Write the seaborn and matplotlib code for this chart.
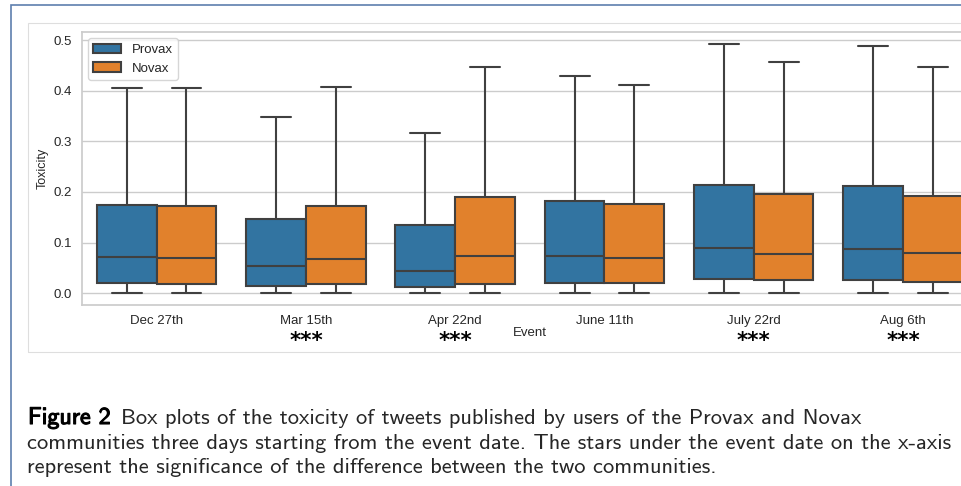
import pandas as pd
import matplotlib.pyplot as plt
import matplotlib.transforms as mtransforms
from matplotlib import patheffects
from matplotlib.patches import Rectangle
import seaborn as sns

events = ["Dec 27th", "Mar 15th", "Apr 22nd", "June 11th", "July 22rd", "Aug 6th"]
communities = ["Provax", "Novax"]
significant = [False, True, True, False, True, True]

# five-number summaries: low whisker, Q1, median, Q3, high whisker
provax_low = [0.0, 0.0, 0.0, 0.0, 0.0, 0.0]
provax_q1 = [0.020, 0.014, 0.013, 0.020, 0.028, 0.026]
provax_median = [0.071, 0.053, 0.045, 0.074, 0.090, 0.088]
provax_q3 = [0.174, 0.147, 0.135, 0.183, 0.213, 0.211]
provax_high = [0.406, 0.349, 0.317, 0.429, 0.492, 0.488]

novax_low = [0.0, 0.0, 0.0, 0.0, 0.0, 0.0]
novax_q1 = [0.019, 0.018, 0.018, 0.020, 0.026, 0.023]
novax_median = [0.069, 0.068, 0.073, 0.070, 0.078, 0.080]
novax_q3 = [0.173, 0.173, 0.191, 0.176, 0.197, 0.192]
novax_high = [0.406, 0.408, 0.447, 0.411, 0.457, 0.446]

caption_bold = "Figure 2"
caption_lines = [
    "Box plots of the toxicity of tweets published by users of the Provax and Novax",
    "communities three days starting from the event date. The stars under the event date on the x-axis",
    "represent the significance of the difference between the two communities.",
]


def build_frame():
    rows = []
    stats = {
        "Provax": (provax_low, provax_q1, provax_median, provax_q3, provax_high),
        "Novax": (novax_low, novax_q1, novax_median, novax_q3, novax_high),
    }
    for i, ev in enumerate(events):
        for com in communities:
            for arr in stats[com]:
                rows.append({"Event": ev, "Community": com, "Toxicity": arr[i]})
    return pd.DataFrame(rows)


df = build_frame()

sns.set_theme(style="whitegrid")
plt.rcParams["font.family"] = ["Liberation Sans", "DejaVu Sans"]

W, H = 962, 486
fig = plt.figure(figsize=(W / 100, H / 100), dpi=100)
fig.patch.set_facecolor("white")

# page frames around the figure (clipped on the right like the screenshot)
fig.patches.append(Rectangle((11 / W, -0.1), 1.2, (H - 5.5) / H + 0.1, transform=fig.transFigure,
                             fill=False, edgecolor="#5d7fae", linewidth=1.2, zorder=0))
fig.patches.append(Rectangle((28 / W, (H - 352) / H), 1.2, (352 - 23) / H, transform=fig.transFigure,
                             fill=False, edgecolor="#dedede", linewidth=0.8, zorder=0))

ax = fig.add_axes([82 / W, (H - 305) / H, 895.7 / W, 272.7 / H])
sns.boxplot(data=df, x="Event", y="Toxicity", hue="Community", ax=ax,
            palette=["#1f77b4", "#ff7f0e"], whis=(0, 100), showfliers=False,
            linewidth=1.5, linecolor=".25")
ax.set_ylim(-0.0231, 0.5153)
ax.set_xlim(-0.5, len(events) - 0.5)
ax.set_yticks([0.0, 0.1, 0.2, 0.3, 0.4, 0.5])
ax.tick_params(axis="x", labelsize=9.5, colors=".15", pad=1)
ax.tick_params(axis="y", labelsize=9.5, colors=".15", pad=1.5)
ax.set_xlabel("Event", fontsize=9.5, color=".15", labelpad=0)
ax.set_ylabel("Toxicity", fontsize=9, color=".15", labelpad=3)
sns.move_legend(ax, "upper left", title=None, fontsize=9.5, handlelength=2.1,
                borderaxespad=0.45)

trans = mtransforms.blended_transform_factory(ax.transData, ax.transAxes)
for i, sig in enumerate(significant):
    if sig:
        ax.text(i, -0.133, "***", transform=trans, ha="center", va="center",
                fontsize=15.5, fontweight="bold", family="DejaVu Sans", color="black")

# caption, sized so the longest line fills the width seen in the reference
renderer = fig.canvas.get_renderer()
probe = fig.text(0, 0, caption_lines[1], fontsize=14, family="cmss10")
cap_size = 14 * 925 / probe.get_window_extent(renderer).width
probe.remove()

bold = fig.text(28 / W, (H - 424) / H, caption_bold, fontsize=cap_size * 1.07, family="cmss10",
                va="baseline", color="black")
bold.set_path_effects([patheffects.withStroke(linewidth=0.8, foreground="black")])
fig.text(121 / W, (H - 424) / H, caption_lines[0], fontsize=cap_size, family="cmss10", va="baseline")
fig.text(27 / W, (H - 448.5) / H, caption_lines[1], fontsize=cap_size, family="cmss10", va="baseline")
fig.text(27 / W, (H - 473) / H, caption_lines[2], fontsize=cap_size, family="cmss10", va="baseline")

fig.savefig("out.png", dpi=100)
